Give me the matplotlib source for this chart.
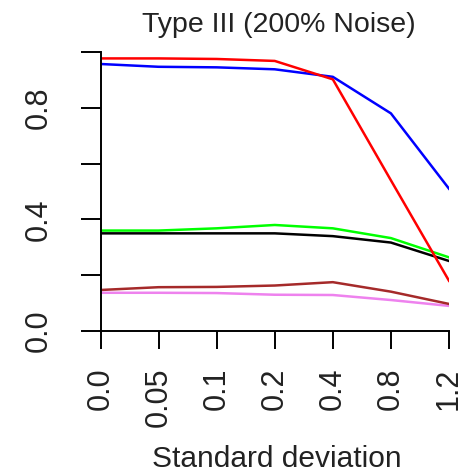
import matplotlib
matplotlib.use("Agg")
import matplotlib.pyplot as plt

plt.rcParams["font.family"] = ["Liberation Sans", "DejaVu Sans"]

# x categories (evenly spaced on the axis)
sd_labels = ["0.0", "0.05", "0.1", "0.2", "0.4", "0.8", "1.2"]

# series values
red = [0.977, 0.977, 0.975, 0.968, 0.902, 0.54, 0.18]
blue = [0.957, 0.947, 0.945, 0.938, 0.911, 0.78, 0.51]
green = [0.36, 0.36, 0.368, 0.38, 0.368, 0.333, 0.264]
black = [0.35, 0.35, 0.35, 0.35, 0.34, 0.317, 0.251]
brown = [0.147, 0.157, 0.158, 0.163, 0.175, 0.141, 0.097]
violet = [0.137, 0.137, 0.136, 0.13, 0.129, 0.111, 0.09]

y_ticks = [0.0, 0.2, 0.4, 0.6, 0.8, 1.0]
y_labels = ["0.0", "", "0.4", "", "0.8", ""]

W, H = 468, 472
fig = plt.figure(figsize=(W / 100, H / 100), dpi=100)
ax = fig.add_axes([100.5 / W, 141 / H, 348.5 / W, 279 / H])

xs = list(range(len(sd_labels)))
lw = 1.8
ax.plot(xs, green, color="#00FF00", lw=lw)
ax.plot(xs, black, color="black", lw=lw)
ax.plot(xs, violet, color="#EE82EE", lw=lw)
ax.plot(xs, brown, color="#A52A2A", lw=lw)
ax.plot(xs, blue, color="#0000FF", lw=lw)
ax.plot(xs, red, color="#FF0000", lw=lw)

ax.set_xlim(0, 6)
ax.set_ylim(0, 1)
for s in ["top", "right"]:
    ax.spines[s].set_visible(False)
for s in ["left", "bottom"]:
    ax.spines[s].set_linewidth(1.4)
ax.spines["left"].set_bounds(0, 1)
ax.spines["bottom"].set_bounds(0, 6)

text_col = "#222222"
ax.set_xticks(xs)
ax.set_xticklabels(sd_labels, rotation=90, va="top", ha="center")
ax.set_yticks(y_ticks)
ax.set_yticklabels(y_labels, rotation=90, va="center", ha="right")
ax.tick_params(axis="x", length=13, width=1.4, pad=13.5, labelsize=22,
               labelcolor=text_col)
ax.tick_params(axis="y", length=14.4, width=1.4, pad=19, labelsize=22,
               labelcolor=text_col)

fig.text(279 / W, 1 - 32 / H, "Type III (200% Noise)", ha="center",
         va="baseline", fontsize=20.5, color=text_col)
fig.text(277 / W, 5 / H, "Standard deviation", ha="center",
         va="baseline", fontsize=21.5, color=text_col)

fig.savefig("out.png", dpi=100)
